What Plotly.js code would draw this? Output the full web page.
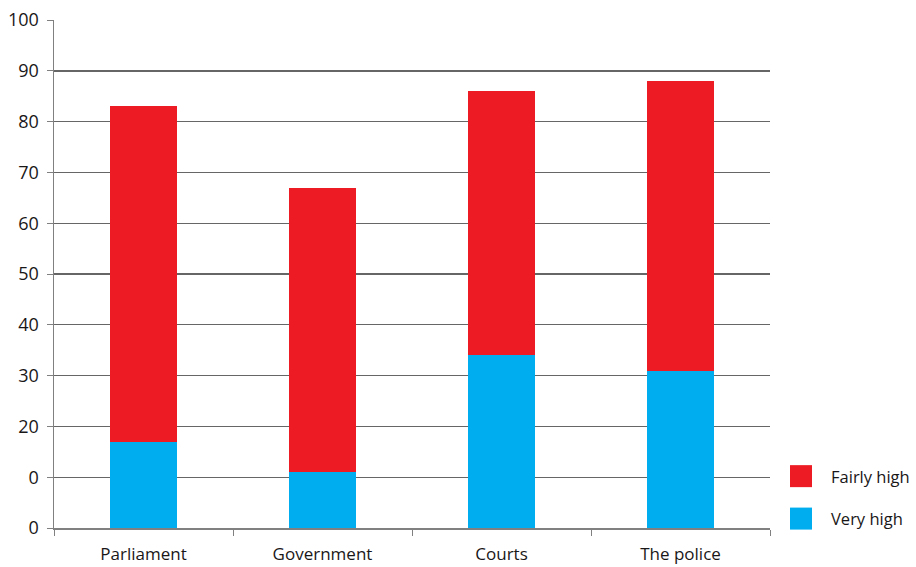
<!DOCTYPE html>
<html>
<head>
<meta charset="utf-8">
<script src="https://cdn.plot.ly/plotly-3.0.1.min.js"></script>
<style>html,body{margin:0;padding:0;background:#fff;}#chart{width:916px;height:567px;}</style>
</head>
<body>
<div id="chart"></div>
<script>
var categories = ["Parliament", "Government", "Courts", "The police"];
var veryHigh = [17, 11, 34, 31];
var fairlyHigh = [66, 56, 52, 57];
var yTickValues = [0, 10, 20, 30, 40, 50, 60, 70, 80, 90, 100];
var yTickLabels = ["0", "0", "20", "30", "40", "50", "60", "70", "80", "90", "100"];

var FONT = "Open Sans, Noto Sans, sans-serif";
var TXT = "#1a1718";

var traces = [
  {type: "bar", name: "Very high", x: categories, y: veryHigh,
   marker: {color: "#00AEEF"}, width: 0.37, legendgroup: "b", legendrank: 2, hoverinfo: "y+name"},
  {type: "bar", name: "Fairly high", x: categories, y: fairlyHigh,
   marker: {color: "#ED1C24"}, width: 0.37, legendgroup: "a", legendrank: 1, hoverinfo: "y+name"}
];

var layout = {
  width: 916, height: 567,
  margin: {l: 54, r: 146, t: 20, b: 39, autoexpand: false},
  barmode: "stack",
  paper_bgcolor: "#fff", plot_bgcolor: "#fff",
  font: {family: FONT, size: 17, color: TXT},
  showlegend: true,
  legend: {x: 1.0154, xanchor: "left", y: 0.136, yanchor: "top",
           traceorder: "grouped", tracegroupgap: 18, itemwidth: 40,
           font: {family: FONT, size: 16.5, color: TXT}, bgcolor: "rgba(0,0,0,0)"},
  xaxis: {type: "category", range: [-0.5, 3.5], tickson: "boundaries",
          ticks: "outside", ticklen: 6, tickcolor: "#808080", tickwidth: 1,
          showline: true, linecolor: "#808080", linewidth: 1.5,
          showgrid: false, zeroline: false, ticklabelstandoff: 10,
          tickfont: {family: FONT, size: 17, color: TXT}},
  yaxis: {range: [0, 100], tickmode: "array", tickvals: yTickValues, ticktext: yTickLabels,
          ticks: "outside", ticklen: 6, tickcolor: "#808080", tickwidth: 1,
          showline: true, linecolor: "#808080", linewidth: 1.5,
          showgrid: true, gridcolor: "#666666", gridwidth: 1.4,
          zeroline: false, ticklabelstandoff: 4,
          tickfont: {family: FONT, size: 18, color: TXT}}
};

Plotly.newPlot("chart", traces, layout, {displayModeBar: false, staticPlot: true}).then(function(gd){
  var pts = gd.querySelectorAll(".legendpoints path");
  pts.forEach(function(p){ p.setAttribute("d", "M6,11H-16V-11H6Z"); });
});
</script>
</body>
</html>
